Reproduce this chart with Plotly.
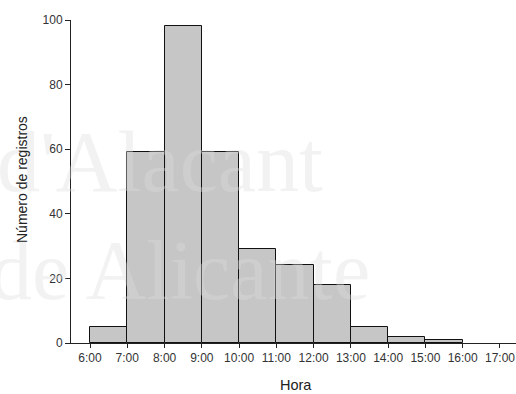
import plotly.graph_objects as go

hour_start = [6, 7, 8, 9, 10, 11, 12, 13, 14, 15]
counts = [5, 59, 98, 59, 29, 24, 18, 5, 2, 1]
tick_hours = [6, 7, 8, 9, 10, 11, 12, 13, 14, 15, 16, 17]
tick_labels = ["6:00", "7:00", "8:00", "9:00", "10:00", "11:00", "12:00",
               "13:00", "14:00", "15:00", "16:00", "17:00"]
y_ticks = [0, 20, 40, 60, 80, 100]

fig = go.Figure()
fig.add_trace(go.Bar(
    x=hour_start, y=counts, width=1, offset=0,
    marker=dict(color="#c6c6c6", line=dict(color="#111111", width=1)),
    hoverinfo="skip",
))

axis_font = dict(family="Liberation Sans, Arial, sans-serif", size=12, color="#333333")
wm_color = "rgba(222,222,222,0.38)"

fig.update_layout(
    width=516, height=394,
    margin=dict(l=71, r=0, t=20, b=51),
    paper_bgcolor="white", plot_bgcolor="rgba(0,0,0,0)",
    showlegend=False, bargap=0,
    xaxis=dict(range=[5.49, 17.43], tickvals=tick_hours, ticktext=tick_labels,
               showline=True, linecolor="#222222", linewidth=1,
               ticks="outside", ticklen=4, tickcolor="#222222",
               showgrid=False, zeroline=False, tickfont=axis_font),
    yaxis=dict(range=[0, 100], tickvals=y_ticks,
               showline=True, linecolor="#222222", linewidth=1,
               ticks="outside", ticklen=5, tickcolor="#222222",
               showgrid=False, zeroline=False, tickfont=axis_font),
    annotations=[
        dict(text="d'Alacant", xref="paper", yref="paper",
             x=(325 - 71) / 445, y=(343 - 162) / 323,
             showarrow=False, xanchor="right", yanchor="middle",
             font=dict(family="Liberation Serif, Times New Roman, serif", size=86,
                       color=wm_color)),
        dict(text="de Alicante", xref="paper", yref="paper",
             x=(372 - 71) / 445, y=(343 - 270) / 323,
             showarrow=False, xanchor="right", yanchor="middle",
             font=dict(family="Liberation Serif, Times New Roman, serif", size=84,
                       color=wm_color)),
        dict(text="Número de registros", xref="paper", yref="paper",
             x=-49 / 445, y=(343 - 180) / 323, textangle=-90,
             showarrow=False, xanchor="center", yanchor="middle",
             font=dict(family="Liberation Sans, Arial, sans-serif", size=14, color="#222222")),
        dict(text="Hora", xref="paper", yref="paper",
             x=(296 - 71) / 445, y=(343 - 385) / 323,
             showarrow=False, xanchor="center", yanchor="middle",
             font=dict(family="Liberation Sans, Arial, sans-serif", size=14.5, color="#222222")),
    ],
)

fig.write_html("out.html")
